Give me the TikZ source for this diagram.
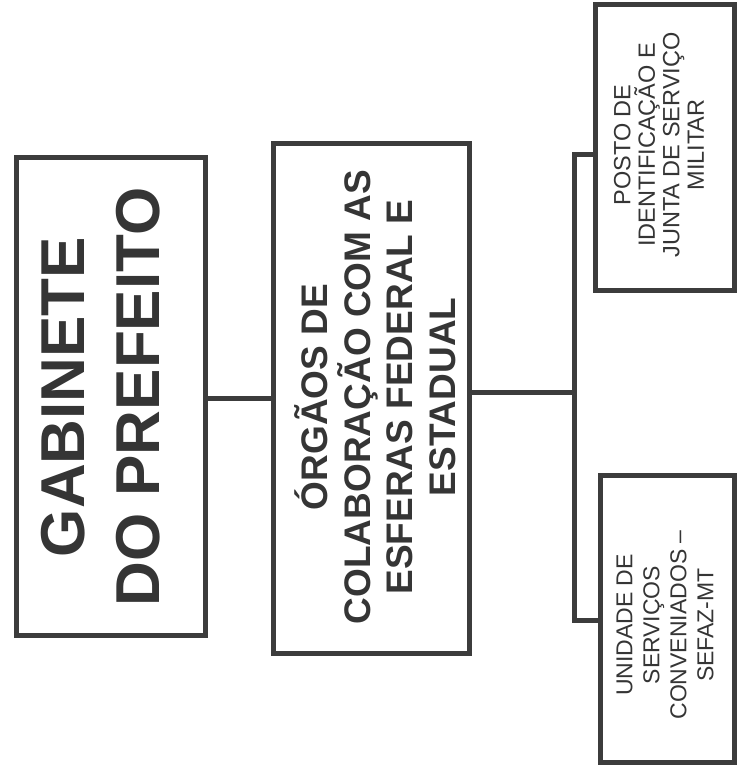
\documentclass[tikz,border=0pt]{standalone}
\usepackage{fontspec}
\setmainfont{Liberation Sans}
\definecolor{ink}{HTML}{3C3C3C}
\definecolor{txt}{HTML}{353535}
\begin{document}
\begin{tikzpicture}[x=1pt,y=-1pt,
  orgbox/.style={draw=ink, line width=5pt, rectangle, inner sep=0pt, outer sep=0pt},
  boxtext/.style={rotate=90, align=center, text=txt, inner sep=0pt},
  link/.style={draw=ink, line width=5pt, line join=miter}]
\useasboundingbox (0,0) rectangle (739,781);
\fill[white] (0,0) rectangle (739,781);
\node[orgbox, minimum width=189pt, minimum height=478pt] (b1) at (110.5,396) {};
\node[orgbox, minimum width=196pt, minimum height=510pt] (b2) at (371,398) {};
\node[orgbox, minimum width=139pt, minimum height=285pt] (b3) at (664.5,147.5) {};
\node[orgbox, minimum width=134pt, minimum height=287pt] (b4) at (667,618.5) {};
\node[boxtext, font=\fontsize{62}{75}\selectfont\bfseries] (t1) at (101,397) {GABINETE\\DO PREFEITO};
\node[boxtext, font=\fontsize{37}{42.5}\selectfont\bfseries] (t2) at (375,397) {ÓRGÃOS DE\\COLABORAÇÃO COM AS\\ESFERAS FEDERAL E\\ESTADUAL};
\node[boxtext, font=\fontsize{23.5}{24.5}\selectfont] (t3) at (659,145) {POSTO DE\\IDENTIFICAÇÃO E\\JUNTA DE SERVIÇO\\MILITAR};
\node[boxtext, font=\fontsize{23}{27}\selectfont] (t4) at (665,625) {UNIDADE DE\\SERVIÇOS\\CONVENIADOS –\\SEFAZ-MT};
\coordinate (j) at (574.5,392);
\coordinate (t) at (574.5,154);
\coordinate (u) at (574.5,620);
\draw[link] (b1.east |- 0,398) -- (b2.west |- 0,398);
\draw[link] (b2.east |- j) -- (j);
\draw[link] (b3.west |- t) -- (t) -- (u) -- (b4.west |- u);
\end{tikzpicture}
\end{document}
